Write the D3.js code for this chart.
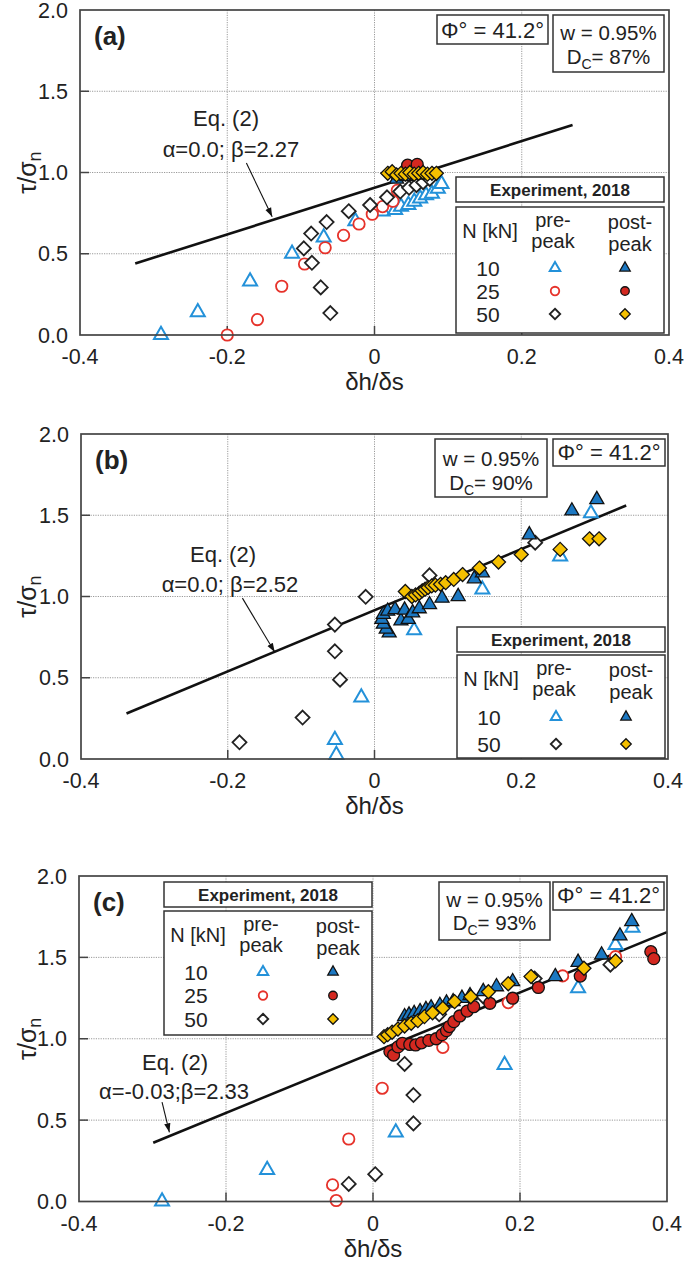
<!DOCTYPE html>
<html><head><meta charset="utf-8">
<script src="https://cdn.jsdelivr.net/npm/d3@7"></script>
<style>
body{margin:0;background:#fff;}
text{font-family:"Liberation Sans",Arial,Helvetica,sans-serif;fill:#222;}
</style></head><body>
<svg id="chart" width="685" height="1263"></svg>
<script>
// ---------- axis ticks ----------
const xTicks = [-0.4, -0.2, 0, 0.2, 0.4];
const xTickLabels = ["-0.4", "-0.2", "0", "0.2", "0.4"];
const yTicks = [0, 0.5, 1.0, 1.5, 2.0];
const yTickLabels = ["0.0", "0.5", "1.0", "1.5", "2.0"];

// ---------- panel (a) ----------
const a_pre10 = [[-0.290,0.00],[-0.240,0.14],[-0.169,0.33],[-0.112,0.50],[-0.069,0.60],[-0.026,0.70],[0.011,0.76],[0.028,0.77],[0.036,0.79],[0.046,0.80],[0.054,0.82],[0.062,0.84],[0.070,0.86],[0.078,0.87],[0.086,0.90],[0.091,0.93]];
const a_post10 = [[0.030,0.96],[0.044,0.975],[0.058,0.985]];
const a_pre25 = [[-0.200,0.00],[-0.159,0.095],[-0.126,0.30],[-0.095,0.437],[-0.067,0.537],[-0.042,0.613],[-0.021,0.683],[-0.003,0.743],[0.011,0.79],[0.025,0.823],[0.031,0.89]];
const a_post25 = [[0.045,1.045],[0.058,1.05]];
const a_pre50 = [[-0.060,0.135],[-0.073,0.293],[-0.085,0.444],[-0.096,0.533],[-0.086,0.624],[-0.065,0.695],[-0.035,0.762],[-0.006,0.80],[0.017,0.847],[0.035,0.883],[0.047,0.906],[0.057,0.922],[0.066,0.94],[0.075,0.96]];
const a_post50 = [[0.018,0.995],[0.024,1.005],[0.030,0.985],[0.036,0.995],[0.042,0.99],[0.048,1.0],[0.054,0.99],[0.060,0.995],[0.066,1.0],[0.072,0.99],[0.078,0.995],[0.084,0.995]];
const a_eq = [[-0.325,0.44],[0.269,1.292]];
const a_arrow = [[-0.174,1.058],[-0.139,0.728]];
const a_eqText = ["Eq. (2)", "α=0.0; β=2.27"];
const a_box = ["w = 0.95%", "87%"];

// ---------- panel (b) ----------
const b_pre10 = [[-0.052,0.025],[-0.054,0.117],[-0.018,0.379],[0.054,0.792],[0.147,1.043],[0.253,1.247],[0.295,1.512]];
const b_post10 = [[0.020,0.776],[0.016,0.80],[0.012,0.83],[0.010,0.86],[0.012,0.89],[0.018,0.91],[0.028,0.92],[0.036,0.85],[0.041,0.917],[0.046,0.86],[0.052,0.90],[0.061,0.925],[0.075,0.95],[0.092,0.99],[0.114,1.0],[0.136,1.109],[0.147,1.146],[0.211,1.38],[0.269,1.527],[0.303,1.597]];
const b_pre50 = [[-0.184,0.103],[-0.098,0.255],[-0.047,0.488],[-0.054,0.663],[-0.054,0.827],[-0.012,0.998],[0.075,1.13],[0.219,1.331]];
const b_post50 = [[0.042,1.031],[0.051,1.00],[0.056,1.01],[0.061,1.02],[0.065,1.035],[0.069,1.045],[0.073,1.055],[0.078,1.065],[0.083,1.07],[0.090,1.075],[0.097,1.085],[0.108,1.105],[0.120,1.135],[0.143,1.175],[0.169,1.212],[0.200,1.258],[0.253,1.29],[0.293,1.355],[0.306,1.355]];
const b_eq = [[-0.338,0.28],[0.343,1.56]];
const b_arrow = [[-0.180,0.99],[-0.136,0.658]];
const b_eqText = ["Eq. (2)", "α=0.0; β=2.52"];
const b_box = ["w = 0.95%", "90%"];

// ---------- panel (c) ----------
const c_pre10 = [[-0.287,0.0],[-0.144,0.194],[0.031,0.424],[0.179,0.839],[0.279,1.31],[0.330,1.576],[0.353,1.683]];
const c_post10 = [[0.043,1.136],[0.049,1.146],[0.056,1.155],[0.064,1.167],[0.072,1.18],[0.079,1.19],[0.091,1.205],[0.100,1.22],[0.109,1.228],[0.121,1.249],[0.132,1.265],[0.150,1.29],[0.168,1.32],[0.190,1.351],[0.248,1.382],[0.279,1.47],[0.311,1.515],[0.336,1.632],[0.352,1.72]];
const c_pre25 = [[-0.050,0.006],[-0.055,0.102],[-0.033,0.384],[0.0125,0.696],[0.095,0.947],[0.184,1.222],[0.258,1.386],[0.330,1.504]];
const c_post25 = [[0.023,0.921],[0.028,0.90],[0.034,0.95],[0.040,0.972],[0.050,0.965],[0.058,0.962],[0.066,0.975],[0.076,0.99],[0.086,1.0],[0.094,1.025],[0.100,1.05],[0.104,1.075],[0.110,1.105],[0.118,1.14],[0.128,1.17],[0.137,1.197],[0.159,1.218],[0.190,1.249],[0.225,1.315],[0.282,1.385],[0.378,1.535],[0.382,1.492]];
const c_pre50 = [[-0.033,0.108],[0.003,0.168],[0.055,0.48],[0.055,0.654],[0.043,0.845],[0.090,1.15],[0.150,1.26],[0.220,1.37],[0.323,1.455]];
const c_post50 = [[0.015,1.013],[0.020,1.025],[0.026,1.04],[0.034,1.06],[0.043,1.078],[0.052,1.095],[0.061,1.111],[0.070,1.136],[0.081,1.16],[0.095,1.187],[0.111,1.228],[0.133,1.258],[0.157,1.289],[0.184,1.338],[0.215,1.382],[0.287,1.433],[0.330,1.478]];
const c_eq = [[-0.299,0.361],[0.400,1.655]];
const c_arrow = [[-0.287,0.611],[-0.277,0.425]];
const c_eqText = ["Eq. (2)", "α=-0.03;β=2.33"];
const c_box = ["w = 0.95%", "93%"];

// ---------- shared texts ----------
const phiText = "Φ° = 41.2°";
const legendTitle = "Experiment, 2018";
const loadLabels = {"10":"10","25":"25","50":"50"};

// ---------- styles ----------
const styles = {
  pre10:  {shape:"tri",  fill:"#fff",    stroke:"#2391d9", sw:2.0},
  post10: {shape:"tri",  fill:"#1c78c2", stroke:"#111",    sw:1.3},
  pre25:  {shape:"circ", fill:"#fff",    stroke:"#e6322a", sw:1.8},
  post25: {shape:"circ", fill:"#d32820", stroke:"#111",    sw:1.3},
  pre50:  {shape:"dia",  fill:"#fff",    stroke:"#222",    sw:1.8},
  post50: {shape:"dia",  fill:"#f5c000", stroke:"#111",    sw:1.3}
};
function shapePath(shape, s){
  if(shape==="tri"){ const w=14*s,h=12.2*s; return `M0,${-2*h/3}L${w/2},${h/3}L${-w/2},${h/3}Z`; }
  if(shape==="circ"){ const r=5.7*s; return `M${r},0A${r},${r},0,1,1,${-r},0A${r},${r},0,1,1,${r},0Z`; }
  const r=7*s; return `M0,${-r}L${r},0L0,${r}L${-r},0Z`;
}

const svg = d3.select("#chart");
svg.append("defs").append("marker").attr("id","arr").attr("viewBox","0 0 10 10")
  .attr("refX",10).attr("refY",5).attr("markerWidth",9).attr("markerHeight",9)
  .attr("markerUnits","userSpaceOnUse").attr("orient","auto")
  .append("path").attr("d","M0,1.5L10,5L0,8.5Z").attr("fill","#111");

const panels = [
  {label:"(a)", left:80, right:669, top:10, bottom:335,
   series:[["pre10",a_pre10],["pre25",a_pre25],["pre50",a_pre50],["post10",a_post10],["post25",a_post25],["post50",a_post50]],
   eq:a_eq, arrow:a_arrow, eqText:a_eqText, eqPos:[[226,126],[231,157]],
   phiBox:{x:437,y:15,w:111,h:29,base:38}, wBox:{x:553,y:15,w:111,h:57,b1:40,b2:64}, dc:a_box,
   legend:{x:456,ty:177,by:207,bh:126,rows:["10","25","50"],rowY:61,rowDy:23}},
  {label:"(b)", left:81, right:668, top:434, bottom:759,
   series:[["pre10",b_pre10],["pre50",b_pre50],["post10",b_post10],["post50",b_post50]],
   eq:b_eq, arrow:b_arrow, eqText:b_eqText, eqPos:[[223,562],[230,592]],
   phiBox:{x:553,y:439,w:112,h:27,base:460}, wBox:{x:435,y:439,w:112,h:58,b1:466,b2:490}, dc:b_box,
   legend:{x:457,ty:627,by:655,bh:103,rows:["10","50"],rowY:62,rowDy:27}},
  {label:"(c)", left:79, right:667, top:876, bottom:1201.5,
   series:[["pre10",c_pre10],["pre25",c_pre25],["pre50",c_pre50],["post10",c_post10],["post25",c_post25],["post50",c_post50]],
   eq:c_eq, arrow:c_arrow, eqText:c_eqText, eqPos:[[175,1070],[174,1099]],
   phiBox:{x:553,y:882,w:111,h:28,base:903}, wBox:{x:439,y:882,w:111,h:58,b1:907,b2:930}, dc:c_box,
   legend:{x:164,ty:882,by:911,bh:124,rows:["10","25","50"],rowY:61,rowDy:23.5}}
];

const rowStyle = {"10":["pre10","post10"],"25":["pre25","post25"],"50":["pre50","post50"]};

panels.forEach(p=>{
  const g = svg.append("g");
  const x = d3.scaleLinear().domain([-0.4,0.4]).range([p.left,p.right]);
  const y = d3.scaleLinear().domain([0,2]).range([p.bottom,p.top]);
  // grid
  g.selectAll(".gx").data(xTicks.slice(1,-1)).join("line")
    .attr("x1",d=>x(d)).attr("x2",d=>x(d)).attr("y1",p.top).attr("y2",p.bottom)
    .attr("stroke","#9a9a9a").attr("stroke-width",1).attr("stroke-dasharray","1.2,1.2");
  g.selectAll(".gy").data(yTicks.slice(1,-1)).join("line")
    .attr("x1",p.left).attr("x2",p.right).attr("y1",d=>y(d)).attr("y2",d=>y(d))
    .attr("stroke","#9a9a9a").attr("stroke-width",1).attr("stroke-dasharray","1.2,1.2");
  // inner ticks
  g.selectAll(".tx").data(xTicks.slice(1,-1)).join("line")
    .attr("x1",d=>x(d)).attr("x2",d=>x(d)).attr("y1",p.bottom).attr("y2",p.bottom-9)
    .attr("stroke","#444").attr("stroke-width",1.5);
  g.selectAll(".ty").data(yTicks.slice(1,-1)).join("line")
    .attr("x1",p.left).attr("x2",p.left+9).attr("y1",d=>y(d)).attr("y2",d=>y(d))
    .attr("stroke","#444").attr("stroke-width",1.5);
  // tick labels
  g.selectAll(".xl").data(xTicks).join("text")
    .attr("x",d=>x(d)).attr("y",p.bottom+29).attr("text-anchor","middle")
    .attr("font-size",21.5).text((d,i)=>xTickLabels[i]);
  g.selectAll(".yl").data(yTicks).join("text")
    .attr("x",p.left-12).attr("y",d=>y(d)).attr("dy","0.36em").attr("text-anchor","end")
    .attr("font-size",21.5).text((d,i)=>yTickLabels[i]);
  // axis titles
  g.append("text").attr("x",(p.left+p.right)/2).attr("y",p.bottom+55)
    .attr("text-anchor","middle").attr("font-size",24).text("δh/δs");
  const yt = g.append("text").attr("transform",`translate(36,${(p.top+p.bottom)/2}) rotate(-90)`)
    .attr("text-anchor","middle").attr("font-size",25);
  yt.append("tspan").text("τ/σ");
  yt.append("tspan").attr("font-size",18).attr("dy",5).text("n");
  // panel label
  g.append("text").attr("x",p.left+14).attr("y",p.top+35).attr("font-size",26)
    .attr("font-weight","bold").text(p.label);

  // equation line
  g.append("line").attr("x1",x(p.eq[0][0])).attr("y1",y(p.eq[0][1]))
    .attr("x2",x(p.eq[1][0])).attr("y2",y(p.eq[1][1]))
    .attr("stroke","#111").attr("stroke-width",2.6);
  g.append("line").attr("x1",x(p.arrow[0][0])).attr("y1",y(p.arrow[0][1]))
    .attr("x2",x(p.arrow[1][0])).attr("y2",y(p.arrow[1][1]))
    .attr("stroke","#111").attr("stroke-width",1.1).attr("marker-end","url(#arr)");
  p.eqText.forEach((t,i)=>{
    g.append("text").attr("x",p.eqPos[i][0]).attr("y",p.eqPos[i][1])
      .attr("text-anchor","middle").attr("font-size",22).text(t);
  });

  // data
  p.series.forEach(([key,data])=>{
    const st = styles[key];
    g.append("g").selectAll("path").data(data).join("path")
      .attr("transform",d=>`translate(${x(d[0])},${y(d[1])})`)
      .attr("d",shapePath(st.shape, st.shape==="circ" && key.startsWith("post") ? 1.05 : 1))
      .attr("fill",st.fill).attr("stroke",st.stroke).attr("stroke-width",st.sw)
      .attr("stroke-linejoin","miter");
  });

  // frame
  g.append("rect").attr("x",p.left).attr("y",p.top).attr("width",p.right-p.left)
    .attr("height",p.bottom-p.top).attr("fill","none").attr("stroke","#444").attr("stroke-width",1.7);

  // boxes
  const pb = p.phiBox;
  g.append("rect").attr("x",pb.x).attr("y",pb.y).attr("width",pb.w).attr("height",pb.h)
    .attr("fill","#fff").attr("stroke","#333").attr("stroke-width",1.5);
  g.append("text").attr("x",pb.x+pb.w/2).attr("y",pb.base).attr("text-anchor","middle")
    .attr("font-size",22).text(phiText);
  const wb = p.wBox;
  g.append("rect").attr("x",wb.x).attr("y",wb.y).attr("width",wb.w).attr("height",wb.h)
    .attr("fill","#fff").attr("stroke","#333").attr("stroke-width",1.5);
  g.append("text").attr("x",wb.x+wb.w/2).attr("y",wb.b1).attr("text-anchor","middle")
    .attr("font-size",20.5).text(p.dc[0]);
  const dt = g.append("text").attr("x",wb.x+wb.w/2).attr("y",wb.b2).attr("text-anchor","middle")
    .attr("font-size",20.5);
  dt.append("tspan").text("D");
  dt.append("tspan").attr("font-size",14).attr("dy",5).text("C");
  dt.append("tspan").attr("dy",-5).text("= " + p.dc[1]);

  // legend
  const L = p.legend, LW = 208;
  g.append("rect").attr("x",L.x).attr("y",L.ty).attr("width",LW).attr("height",25)
    .attr("fill","#fff").attr("stroke","#333").attr("stroke-width",1.5);
  g.append("text").attr("x",L.x+LW/2).attr("y",L.ty+18.5).attr("text-anchor","middle")
    .attr("font-size",17).attr("font-weight","bold").text(legendTitle);
  g.append("rect").attr("x",L.x).attr("y",L.by).attr("width",LW).attr("height",L.bh)
    .attr("fill","#fff").attr("stroke","#333").attr("stroke-width",1.5);
  g.append("text").attr("x",L.x+34).attr("y",L.by+31).attr("text-anchor","middle")
    .attr("font-size",20).text("N [kN]");
  g.append("text").attr("x",L.x+97).attr("y",L.by+20).attr("text-anchor","middle").attr("font-size",20).text("pre-");
  g.append("text").attr("x",L.x+97).attr("y",L.by+41).attr("text-anchor","middle").attr("font-size",20).text("peak");
  g.append("text").attr("x",L.x+174).attr("y",L.by+22).attr("text-anchor","middle").attr("font-size",20).text("post-");
  g.append("text").attr("x",L.x+174).attr("y",L.by+44).attr("text-anchor","middle").attr("font-size",20).text("peak");
  L.rows.forEach((r,i)=>{
    const ry = L.by + L.rowY + i*L.rowDy;
    g.append("text").attr("x",L.x+32).attr("y",ry+7.5).attr("text-anchor","middle")
      .attr("font-size",21).text(loadLabels[r]);
    rowStyle[r].forEach((k,j)=>{
      const st = styles[k];
      g.append("path").attr("transform",`translate(${L.x+(j?169:99)},${ry})`)
        .attr("d",shapePath(st.shape,0.75)).attr("fill",st.fill).attr("stroke",st.stroke)
        .attr("stroke-width",st.sw);
    });
  });
});
</script></body></html>
